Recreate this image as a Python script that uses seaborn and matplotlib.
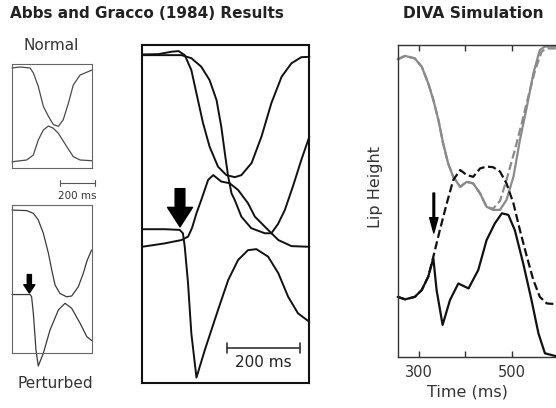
import matplotlib
matplotlib.use("Agg")
import matplotlib.pyplot as plt
import seaborn as sns

# --- Abbs and Gracco (1984), small panels: time (ms from panel start), lip height (0-1 of box)
norm_upper_t = [0, 46, 103, 122, 150, 179, 208, 236, 265, 293, 322, 350, 389, 457]
norm_upper_h = [0.962, 0.971, 0.962, 0.914, 0.785, 0.593, 0.497, 0.418, 0.401, 0.465, 0.622, 0.798, 0.894, 0.942]
norm_lower_t = [0, 84, 122, 150, 179, 208, 236, 265, 313, 350, 389, 457]
norm_lower_h = [0.060, 0.077, 0.125, 0.269, 0.365, 0.404, 0.382, 0.333, 0.205, 0.109, 0.077, 0.070]

pert_upper_t = [0, 84, 122, 150, 179, 208, 227, 246, 274, 312, 341, 379, 407, 430, 455]
pert_upper_h = [0.966, 0.962, 0.944, 0.899, 0.809, 0.674, 0.561, 0.459, 0.402, 0.380, 0.385, 0.448, 0.538, 0.628, 0.696]
pert_lower_t = [0, 103, 112, 122, 137, 150, 179, 217, 265, 303, 341, 389, 427, 455]
pert_lower_h = [0.395, 0.395, 0.380, 0.267, 0.020, -0.088, -0.002, 0.155, 0.291, 0.336, 0.302, 0.201, 0.111, 0.084]

# --- big overlay panel
mid_u1_t = [0, 45, 80, 100, 117, 135, 149, 167, 185, 208, 231, 254, 272, 300, 327, 354, 382, 409, 436, 458]
mid_u1_h = [0.972, 0.973, 0.980, 0.982, 0.970, 0.926, 0.857, 0.769, 0.699, 0.640, 0.615, 0.609, 0.615, 0.651,
            0.729, 0.828, 0.906, 0.946, 0.964, 0.965]
mid_u2_t = [0, 62, 108, 135, 162, 185, 204, 217, 228, 236, 245, 254, 272, 299, 336, 354, 372, 391, 414, 436, 458]
mid_u2_h = [0.970, 0.970, 0.970, 0.961, 0.936, 0.896, 0.837, 0.758, 0.670, 0.610, 0.561, 0.541, 0.492, 0.458,
            0.443, 0.443, 0.470, 0.512, 0.585, 0.660, 0.729]
mid_l1_t = [0, 62, 108, 126, 137, 149, 162, 181, 195, 217, 240, 263, 290, 309, 345, 373, 409, 458]
mid_l1_h = [0.403, 0.413, 0.423, 0.433, 0.459, 0.502, 0.541, 0.601, 0.615, 0.596, 0.591, 0.571, 0.532, 0.492,
            0.453, 0.423, 0.405, 0.403]
mid_l2_t = [0, 62, 103, 112, 117, 126, 135, 149, 172, 208, 236, 263, 290, 313, 345, 373, 400, 427, 458]
mid_l2_h = [0.455, 0.455, 0.453, 0.443, 0.403, 0.295, 0.147, 0.016, 0.098, 0.216, 0.305, 0.364, 0.393, 0.396,
            0.374, 0.325, 0.255, 0.206, 0.181]

# --- DIVA simulation (Time in ms, lip height 0-1)
upper_t = [254, 270, 291, 306, 320, 331, 342, 352, 363, 374, 389, 403, 417, 432, 446, 460, 475, 489, 504, 518,
           533, 547, 561, 572, 600]
upper_pert = [0.954, 0.965, 0.957, 0.930, 0.877, 0.824, 0.759, 0.685, 0.620, 0.577, 0.545, 0.561, 0.556, 0.524,
              0.481, 0.471, 0.471, 0.503, 0.577, 0.695, 0.802, 0.909, 0.984, 0.995, 0.995]
upper_norm_t = [254, 270, 291, 306, 320, 331, 342, 352, 363, 374, 389, 403, 417, 432, 446, 460, 475, 489, 507,
                522, 536, 551, 565, 576, 600]
upper_norm = [0.954, 0.965, 0.957, 0.930, 0.877, 0.824, 0.759, 0.685, 0.620, 0.577, 0.545, 0.561, 0.556, 0.524,
              0.481, 0.475, 0.500, 0.567, 0.663, 0.749, 0.834, 0.920, 0.979, 0.989, 0.989]
lower_t = [254, 270, 291, 306, 320, 331, 338, 351, 367, 385, 407, 428, 446, 464, 479, 493, 507, 525, 543, 558,
           572, 600]
lower_pert = [0.192, 0.184, 0.192, 0.214, 0.257, 0.316, 0.214, 0.102, 0.182, 0.235, 0.219, 0.278, 0.374, 0.428,
              0.460, 0.455, 0.406, 0.300, 0.182, 0.075, 0.011, 0.0]
lower_norm_t = [254, 270, 291, 306, 320, 331, 345, 360, 374, 389, 403, 417, 432, 446, 460, 475, 489, 504, 518,
                533, 547, 561, 576, 600]
lower_norm = [0.192, 0.184, 0.192, 0.214, 0.257, 0.321, 0.406, 0.492, 0.567, 0.599, 0.583, 0.577, 0.604, 0.610,
              0.608, 0.594, 0.556, 0.492, 0.406, 0.321, 0.246, 0.192, 0.171, 0.168]

time_ticks = [300, 400, 500]
time_labels = ["300", "", "500"]

sns.set_style("white")
plt.rcParams["font.family"] = ["DejaVu Sans"]

W, H = 556, 408
fig = plt.figure(figsize=(W / 100, H / 100), dpi=100)


def px_axes(x0, y0, x1, y1):
    return fig.add_axes([x0 / W, 1 - y1 / H, (x1 - x0) / W, (y1 - y0) / H])


def ftext(x, y, s, **kw):
    fig.text(x / W, 1 - y / H, s, **kw)


def trace(ax, t, h, color, lw, ls="-"):
    sns.lineplot(x=t, y=h, ax=ax, color=color, linewidth=lw, linestyle=ls, sort=False,
                 estimator=None, legend=False, clip_on=False)


def box(ax, color, lw):
    ax.set_xticks([])
    ax.set_yticks([])
    ax.set_xlabel("")
    ax.set_ylabel("")
    for s in ax.spines.values():
        s.set_visible(True)
        s.set_color(color)
        s.set_linewidth(lw)


# normal
ax1 = px_axes(12, 64, 92, 168)
trace(ax1, norm_upper_t, norm_upper_h, "#4a4a4a", 0.9)
trace(ax1, norm_lower_t, norm_lower_h, "#4a4a4a", 0.9)
ax1.set_xlim(0, 457)
ax1.set_ylim(0, 1)
box(ax1, "#666666", 0.8)
ax1.plot([274, 474], [-0.145, -0.145], color="#555555", lw=0.8, clip_on=False)
ax1.plot([274, 274], [-0.175, -0.115], color="#555555", lw=0.8, clip_on=False)
ax1.plot([474, 474], [-0.175, -0.115], color="#555555", lw=0.8, clip_on=False)
ax1.text(374, -0.27, "200 ms", ha="center", va="center", fontsize=7.5, color="#333333", clip_on=False)

# perturbed
ax2 = px_axes(12, 205, 92, 353)
trace(ax2, pert_upper_t, pert_upper_h, "#3a3a3a", 0.9)
trace(ax2, pert_lower_t, pert_lower_h, "#3a3a3a", 0.9)
ax2.set_xlim(0, 457)
ax2.set_ylim(0, 1)
box(ax2, "#666666", 0.8)
ax2.annotate("", xy=(99, 0.405), xytext=(99, 0.53),
             arrowprops=dict(facecolor="black", edgecolor="black", width=3, headwidth=8, headlength=6, shrink=0))

# big overlay
ax3 = px_axes(142, 45, 309, 383)
for t, h in [(mid_u1_t, mid_u1_h), (mid_u2_t, mid_u2_h), (mid_l1_t, mid_l1_h), (mid_l2_t, mid_l2_h)]:
    trace(ax3, t, h, "#111111", 1.4)
ax3.set_xlim(0, 457)
ax3.set_ylim(0, 1)
box(ax3, "#111111", 1.5)
ax3.annotate("", xy=(104, 0.462), xytext=(104, 0.575),
             arrowprops=dict(facecolor="black", edgecolor="black", width=7, headwidth=18, headlength=14, shrink=0))
ax3.plot([233, 433], [0.104, 0.104], color="#333333", lw=1.2)
ax3.plot([233, 233], [0.09, 0.118], color="#333333", lw=1.2)
ax3.plot([433, 433], [0.09, 0.118], color="#333333", lw=1.2)
ax3.text(331, 0.062, "200 ms", ha="center", va="center", fontsize=11, color="#222222")

# DIVA simulation (axes run past the right edge, as in the original crop)
ax4 = px_axes(397.7, 45, 600, 356.7)
trace(ax4, upper_norm_t, upper_norm, "#8a8a8a", 1.6, "--")
trace(ax4, upper_t, upper_pert, "#8a8a8a", 1.6)
trace(ax4, lower_norm_t, lower_norm, "#111111", 1.6, "--")
trace(ax4, lower_t, lower_pert, "#111111", 1.6)
ax4.set_xlim(254, 691)
ax4.set_ylim(0, 1)
ax4.set_yticks([])
ax4.set_xticks(time_ticks)
ax4.set_xticklabels(time_labels, fontsize=10.5, color="#333333")
ax4.tick_params(axis="x", direction="in", length=4, width=1, color="#333333", top=True, bottom=True, pad=6)
for s in ax4.spines.values():
    s.set_color("#333333")
    s.set_linewidth(1.0)
ax4.set_xlabel("Time (ms)", fontsize=11.5, color="#333333")
ax4.set_ylabel("Lip Height", fontsize=11.5, color="#333333")
ax4.xaxis.set_label_coords(0.343, -0.09)
ax4.yaxis.set_label_coords(-0.075, 0.544)
ax4.annotate("", xy=(332, 0.397), xytext=(332, 0.525),
             arrowprops=dict(facecolor="black", edgecolor="black", width=1.2, headwidth=6, headlength=11, shrink=0))

ftext(10, 14, "Abbs and Gracco (1984) Results", fontsize=11, fontweight="bold", ha="left", va="center",
      color="#222222")
ftext(403, 14, "DIVA Simulation", fontsize=11.2, fontweight="bold", ha="left", va="center", color="#222222")
ftext(51, 45, "Normal", fontsize=11, ha="center", va="center", color="#333333")
ftext(55, 383, "Perturbed", fontsize=11, ha="center", va="center", color="#333333")

fig.savefig("out.png", dpi=100)
